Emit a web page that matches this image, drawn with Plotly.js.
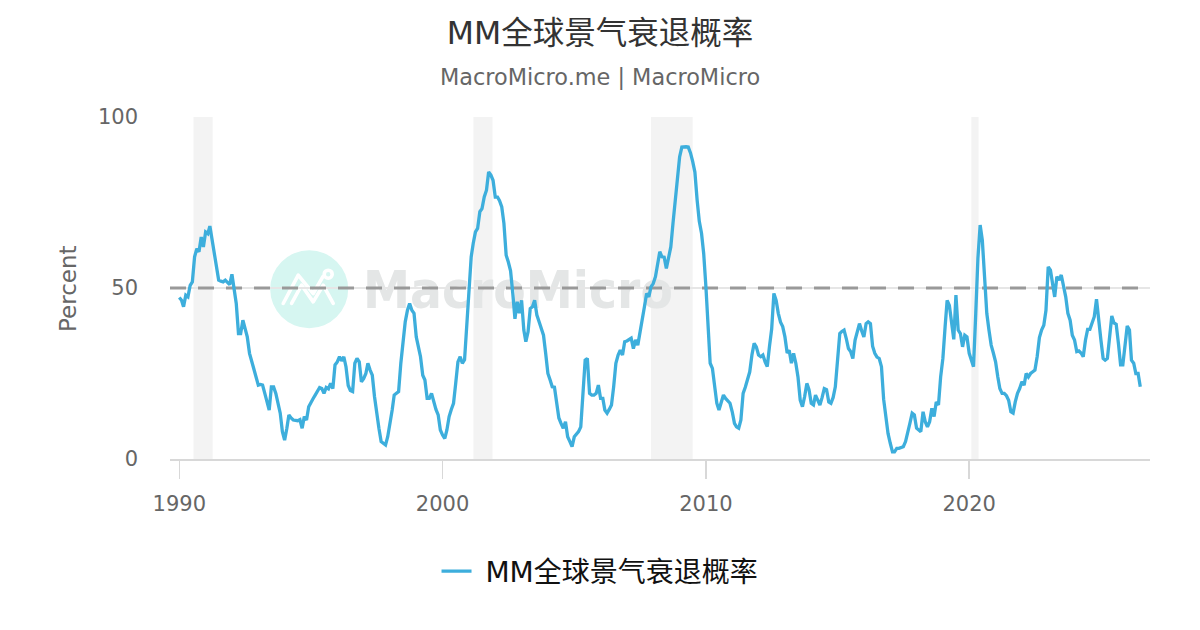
<!DOCTYPE html>
<html>
<head>
<meta charset="utf-8">
<script src="https://cdn.plot.ly/plotly-3.0.1.min.js"></script>
<style>
  html, body { margin: 0; padding: 0; background: #fff; }
  #chart { width: 1200px; height: 630px; }
</style>
</head>
<body>
<div id="chart"></div>
<script>
// Monthly readings, one row per year (Jan..Dec), 2026 is partial
const years = [1990, 1991, 1992, 1993, 1994, 1995, 1996, 1997, 1998, 1999,
               2000, 2001, 2002, 2003, 2004, 2005, 2006, 2007, 2008, 2009,
               2010, 2011, 2012, 2013, 2014, 2015, 2016, 2017, 2018, 2019,
               2020, 2021, 2022, 2023, 2024, 2025, 2026];
const months = ['01', '02', '03', '04', '05', '06', '07', '08', '09', '10', '11', '12'];
const probability = [
  [47.2, 46.4, 44.5, 47.9, 47.4, 50.8, 51.8, 59.1, 61.5, 60.6, 64.9, 62.0],
  [66.4, 65.9, 68.1, 64.0, 60.0, 55.7, 52.3, 52.0, 51.8, 52.3, 51.5, 51.0],
  [54.0, 49.4, 45.5, 36.7, 36.7, 40.6, 38.0, 35.7, 30.9, 28.5, 26.0, 23.5],
  [21.6, 21.8, 21.6, 19.2, 16.5, 14.3, 21.1, 21.1, 19.2, 16.0, 13.4, 8.0],
  [5.5, 9.0, 12.9, 12.0, 11.4, 11.3, 11.2, 11.5, 9.0, 12.4, 11.4, 15.3],
  [16.7, 17.7, 18.7, 20.0, 20.9, 20.6, 19.2, 20.9, 20.5, 22.1, 20.6, 27.5],
  [28.4, 29.9, 28.7, 29.9, 27.0, 21.5, 20.0, 19.7, 28.0, 29.4, 28.4, 22.6],
  [23.5, 25.0, 28.0, 26.0, 24.5, 18.2, 13.0, 9.0, 5.1, 4.5, 4.1, 6.5],
  [10.0, 14.3, 18.7, 19.2, 19.7, 28.0, 34.0, 40.1, 43.5, 45.5, 43.5, 42.6],
  [35.7, 33.0, 29.9, 24.5, 23.1, 17.7, 17.7, 19.2, 16.3, 14.5, 12.9, 8.5],
  [7.0, 6.0, 8.5, 12.4, 14.5, 16.3, 22.1, 28.4, 29.9, 28.0, 29.0, 38.7],
  [50.3, 59.1, 63.0, 66.4, 67.4, 72.3, 73.2, 76.6, 78.6, 83.9, 83.0, 81.5],
  [76.6, 76.6, 75.5, 73.7, 68.9, 59.6, 57.6, 55.0, 48.4, 41.0, 46.0, 42.6],
  [46.4, 37.7, 34.3, 37.2, 44.0, 44.5, 46.4, 42.1, 40.1, 38.0, 36.2, 30.9],
  [25.0, 23.1, 21.1, 21.0, 16.3, 12.0, 10.4, 9.0, 10.9, 6.5, 5.1, 3.6],
  [6.5, 7.2, 8.0, 9.4, 18.0, 28.9, 29.4, 19.2, 18.7, 18.7, 19.2, 21.6],
  [17.7, 17.7, 14.3, 13.4, 14.5, 15.8, 21.1, 28.0, 30.4, 31.8, 30.4, 34.3],
  [34.5, 34.8, 35.3, 32.3, 34.8, 33.3, 36.7, 40.0, 44.5, 48.4, 47.4, 50.3],
  [51.3, 53.3, 57.0, 60.6, 59.1, 59.0, 55.7, 59.1, 62.0, 68.9, 76.0, 82.0],
  [88.3, 91.2, 91.3, 91.3, 91.2, 89.5, 87.0, 83.9, 75.7, 69.5, 66.0, 60.1],
  [50.3, 38.7, 28.0, 26.5, 21.1, 16.3, 14.3, 17.0, 18.7, 17.7, 17.0, 16.3],
  [13.8, 10.4, 9.4, 9.0, 11.4, 19.2, 21.0, 23.1, 25.5, 30.4, 33.8, 32.8],
  [30.4, 29.9, 30.4, 28.4, 27.0, 33.0, 38.0, 48.4, 46.4, 42.6, 40.0, 38.7],
  [35.7, 31.0, 31.8, 28.0, 30.9, 28.0, 24.0, 17.2, 15.3, 18.2, 22.1, 20.3],
  [16.3, 15.8, 18.7, 17.2, 15.8, 18.0, 20.6, 20.3, 16.7, 16.3, 18.0, 21.1],
  [28.0, 36.7, 37.3, 37.7, 35.3, 32.3, 31.4, 29.4, 34.8, 37.7, 39.6, 37.5],
  [35.7, 39.6, 40.1, 39.6, 33.0, 30.9, 29.8, 29.4, 27.0, 17.5, 12.4, 7.5],
  [4.6, 2.1, 2.1, 3.1, 3.1, 3.3, 3.6, 5.1, 7.5, 10.5, 13.4, 12.9],
  [9.0, 8.5, 8.0, 13.8, 10.9, 9.4, 10.9, 14.8, 12.4, 16.7, 15.8, 24.0],
  [29.4, 38.7, 46.4, 44.9, 40.6, 35.0, 47.9, 37.7, 36.7, 32.8, 36.2, 35.7],
  [30.9, 29.0, 27.0, 42.6, 58.7, 68.4, 64.0, 53.3, 42.6, 37.7, 33.3, 31.0],
  [28.4, 24.0, 20.6, 19.2, 19.2, 18.5, 17.2, 13.8, 13.4, 16.7, 19.2, 20.6],
  [22.6, 21.6, 25.0, 24.0, 25.0, 25.5, 26.0, 30.0, 35.5, 37.7, 39.1, 43.5],
  [56.2, 55.2, 52.0, 47.4, 53.3, 52.3, 53.8, 50.3, 47.4, 42.6, 40.6, 36.2],
  [34.8, 31.4, 31.6, 31.0, 29.9, 34.8, 37.9, 37.9, 39.5, 41.6, 46.7, 40.0],
  [34.8, 29.4, 28.9, 29.4, 35.7, 41.8, 39.8, 39.4, 33.8, 27.5, 27.5, 33.8],
  [38.9, 37.7, 28.9, 28.0, 25.0, 25.0, 21.1]
];

// US recession periods (shaded)
const recessionStart = ['1990-07-16', '2001-03-03', '2007-12-01', '2020-01-30'];
const recessionEnd   = ['1991-04-08', '2001-11-24', '2009-07-01', '2020-05-10'];

const threshold = 50;
const xRange = ['1989-08-25', '2026-11-13'];
const xTickVals = ['1990-01-01', '2000-01-01', '2010-01-01', '2020-01-01'];
const xTickText = ['1990', '2000', '2010', '2020'];
const yTickVals = [0, 50, 100];

const seriesName = 'MM全球景气衰退概率';
const FONT = '"DejaVu Sans", "Noto Sans CJK SC", sans-serif';

// flatten year rows into a date / value list
const dates = [];
const values = [];
probability.forEach((row, i) => {
  row.forEach((v, j) => {
    dates.push(years[i] + '-' + months[j]);
    values.push(v);
  });
});

// watermark (circle logo + wordmark), drawn under the data
const wmSvg =
  '<svg xmlns="http://www.w3.org/2000/svg" width="412" height="88" viewBox="0 0 412 88">' +
  '<circle cx="41.3" cy="44" r="39" fill="#d6f6f1"/>' +
  '<g fill="none" stroke="#ffffff" stroke-width="3.6" stroke-linecap="round" stroke-linejoin="round">' +
  '<polyline points="15.3,58.3 30.3,30 45.3,48.3 55,31.5"/>' +
  '<polyline points="23.7,58.3 33.7,40 45.3,56.7 55.3,40 65.3,58.3"/>' +
  '<circle cx="60.3" cy="29" r="4"/>' +
  '</g>' +
  '<text x="95" y="63" font-family="DejaVu Sans" font-weight="bold" font-size="51" fill="#e4e6e6" ' +
  'textLength="310" lengthAdjust="spacingAndGlyphs">MacroMicro</text>' +
  '</svg>';
const wmUri = 'data:image/svg+xml;charset=utf-8,' + encodeURIComponent(wmSvg);
const YEAR_MS = 365.25 * 24 * 3600 * 1000;

// translucent so the watermark still shows through the bands
const shapes = recessionStart.map((s, i) => ({
  type: 'rect', xref: 'x', yref: 'paper',
  x0: s, x1: recessionEnd[i], y0: 0, y1: 1,
  fillcolor: 'rgba(200,200,200,0.22)', line: { width: 0 }, layer: 'below'
}));
shapes.push({
  type: 'line', xref: 'x', yref: 'y',
  x0: xRange[0], x1: xRange[1], y0: threshold, y1: threshold,
  line: { color: '#999999', width: 3, dash: '16px,12px' }, layer: 'between'
});

const trace = {
  x: dates,
  y: values,
  type: 'scatter',
  mode: 'lines',
  name: ' ' + seriesName,
  line: { color: '#3daedc', width: 3.3 },
  hoverinfo: 'skip'
};

const layout = {
  width: 1200,
  height: 630,
  margin: { l: 170, r: 50, t: 117, b: 171 },
  paper_bgcolor: '#ffffff',
  plot_bgcolor: 'rgba(0,0,0,0)',
  font: { family: FONT, color: '#666666' },
  title: {
    text: seriesName,
    font: { family: FONT, size: 31.5, color: '#333333' },
    xref: 'container', x: 0.5, xanchor: 'center',
    yref: 'container', y: 0.948, yanchor: 'middle'
  },
  showlegend: true,
  legend: {
    orientation: 'h',
    x: 0.4388, xanchor: 'center',
    y: -0.329, yanchor: 'middle',
    font: { family: FONT, size: 28, color: '#111111' },
    itemwidth: 30
  },
  xaxis: {
    type: 'date',
    range: xRange,
    tickmode: 'array',
    tickvals: xTickVals,
    ticktext: xTickText,
    showgrid: false,
    zeroline: false,
    showline: true,
    linecolor: '#d8d8d8',
    linewidth: 2,
    ticks: 'outside',
    ticklen: 18,
    tickwidth: 1.5,
    tickcolor: '#d8d8d8',
    ticklabelstandoff: 7,
    tickfont: { family: FONT, size: 21, color: '#666666' },
    fixedrange: true
  },
  yaxis: {
    range: [0, 100],
    tickmode: 'array',
    tickvals: yTickVals,
    showgrid: true,
    gridcolor: '#e6e6e6',
    gridwidth: 1.5,
    zeroline: false,
    showline: false,
    ticks: '',
    ticklabelstandoff: 31,
    tickfont: { family: FONT, size: 21, color: '#666666' },
    fixedrange: true
  },
  shapes: shapes,
  images: [{
    source: wmUri,
    xref: 'x', yref: 'y',
    x: '1993-05-14', y: 62.5,
    sizex: 15.647 * YEAR_MS, sizey: 25.7,
    xanchor: 'left', yanchor: 'top',
    sizing: 'stretch',
    layer: 'below'
  }],
  annotations: [
    {
      text: 'MacroMicro.me | MacroMicro',
      xref: 'paper', yref: 'paper',
      x: 0.4388, y: 1.116,
      xanchor: 'center', yanchor: 'middle',
      showarrow: false,
      font: { family: FONT, size: 22.4, color: '#666666' }
    },
    {
      text: 'Percent',
      xref: 'paper', yref: 'paper',
      x: -0.1041, y: 0.5,
      xanchor: 'center', yanchor: 'middle',
      textangle: -90,
      showarrow: false,
      font: { family: FONT, size: 23, color: '#666666' }
    }
  ]
};

Plotly.newPlot('chart', [trace], layout, { displayModeBar: false, staticPlot: true });
</script>
</body>
</html>
